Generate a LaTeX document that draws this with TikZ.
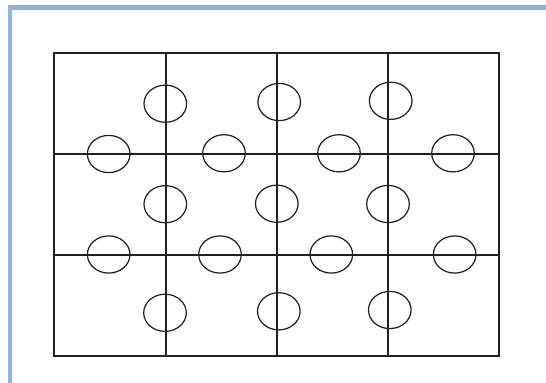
\documentclass[tikz,border=0pt]{standalone}
\usepackage{xcolor}
\definecolor{framebl}{RGB}{141,180,226}
\definecolor{gridblk}{RGB}{35,31,32}
\usepackage{tikz}
\tikzset{
  gridline/.style={line width=1.5pt, gridblk},
  cellring/.style={line width=1.05pt, gridblk},
}

\begin{document}
\begin{tikzpicture}[x=0.03cm, y=-0.03cm]
  \useasboundingbox (0,0) rectangle (546,383);
  % Frame
  \draw[line width=4pt, framebl] (546,7.5) -- (10,7.5) -- (10,383);

  % Grid
  \draw[gridline] (54,53) rectangle (499,356);
  \foreach \gx in {165.7,277,388}
    \draw[gridline] (\gx,53) -- (\gx,356);
  \foreach \gy in {154,255}
    \draw[gridline] (54,\gy) -- (499,\gy);

  % Rings
  \foreach \ex/\ey in {165.3/103.7, 279.2/102, 390.7/100.8,
                       108.7/154, 224/153.3, 339/153.3, 453/153.3,
                       165.3/204.2, 276.8/203.7, 388/204,
                       108.7/254.5, 220/254.5, 331.3/254.5, 454.7/254.5,
                       165/312.8, 278.8/311.3, 389.8/310}
    \draw[cellring] (\ex,\ey) ellipse [x radius=21.3, y radius=18.6];
\end{tikzpicture}
\end{document}
